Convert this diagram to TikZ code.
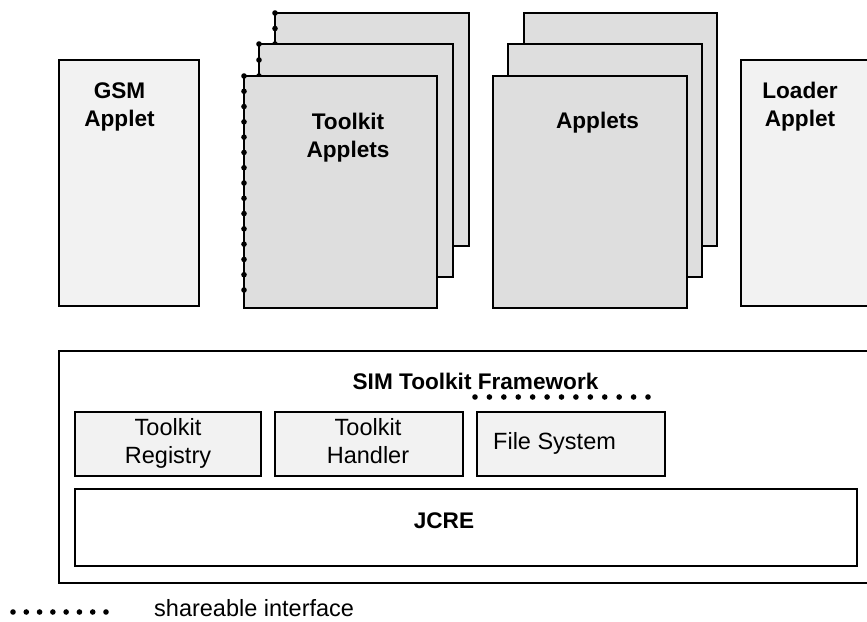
\documentclass[tikz,border=0pt]{standalone}
\usepackage{fontspec}
\setmainfont{Liberation Sans}
\definecolor{lightbox}{HTML}{F2F2F2}
\definecolor{stackbox}{HTML}{DEDEDE}
\tikzset{
  boxline/.style={draw=black, line width=1.6bp},
  appletbox/.style={boxline, fill=lightbox},
  stackpage/.style={boxline, fill=stackbox},
  plainbox/.style={boxline, fill=white},
  dotmark/.style={fill=black, draw=none},
  boldlabel/.style={inner sep=0pt, align=center, anchor=base, font={\fontsize{22.6bp}{28bp}\selectfont\bfseries}},
  reglabel/.style={inner sep=0pt, align=center, anchor=base, font={\fontsize{23.5bp}{28bp}\selectfont}}
}
\newcommand{\dotrow}[4]{% x1, x2, y, n
  \foreach \i in {0,...,#4}{\fill[dotmark] ({#1+(#2-#1)*\i/#4},#3) circle (2.8bp);}}
\newcommand{\dotcol}[4]{% x, y1, y2, n
  \foreach \i in {0,...,#4}{\fill[dotmark] (#1,{#2+(#3-#2)*\i/#4}) circle (2.8bp);}}
\begin{document}
\begin{tikzpicture}[x=1bp,y=-1bp]
\useasboundingbox (0,0) rectangle (867,622);
% side applets
\path[appletbox] (59,60) rectangle (199,306);
\path[appletbox] (741,60) rectangle (880,306);
% Toolkit applet stack
\path[stackpage] (275,13) rectangle (469,246);
\dotcol{275}{13}{44}{2}
\path[stackpage] (259,44) rectangle (453,277);
\dotcol{259}{44}{76}{2}
\path[stackpage] (244,76) rectangle (437,308);
\dotcol{244}{76}{290}{14}
% Applets stack
\path[stackpage] (524,13) rectangle (717,246);
\path[stackpage] (508,44) rectangle (702,277);
\path[stackpage] (493,76) rectangle (687,308);
% labels top (base anchor = last line baseline)
\node[boldlabel] (gsm) at (119.5,127) {GSM\\Applet};
\node[boldlabel] (loader) at (800,127) {Loader\\Applet};
\node[boldlabel] (tka) at (348,158) {Toolkit\\Applets};
\node[boldlabel] (apl) at (597.5,129) {Applets};
% framework
\path[plainbox] (59,351) rectangle (880,583);
\node[boldlabel] (fw) at (475.5,389) {SIM Toolkit Framework};
\dotrow{475}{648}{397}{12}
\path[appletbox] (75,412) rectangle (261,476);
\path[appletbox] (275,412) rectangle (463,476);
\path[appletbox] (477,412) rectangle (665,476);
\path[plainbox] (75,489) rectangle (857,566);
\node[reglabel] (reg) at (168,463) {Toolkit\\Registry};
\node[reglabel] (hdl) at (368,463) {Toolkit\\Handler};
\node[reglabel, anchor=base west] (fs) at (493,449) {File System};
\node[boldlabel] (jcre) at (444,528) {JCRE};
% legend
\dotrow{13}{106}{612}{7}
\node[reglabel, anchor=base west] (leg) at (154,616) {shareable interface};
\end{tikzpicture}
\end{document}
